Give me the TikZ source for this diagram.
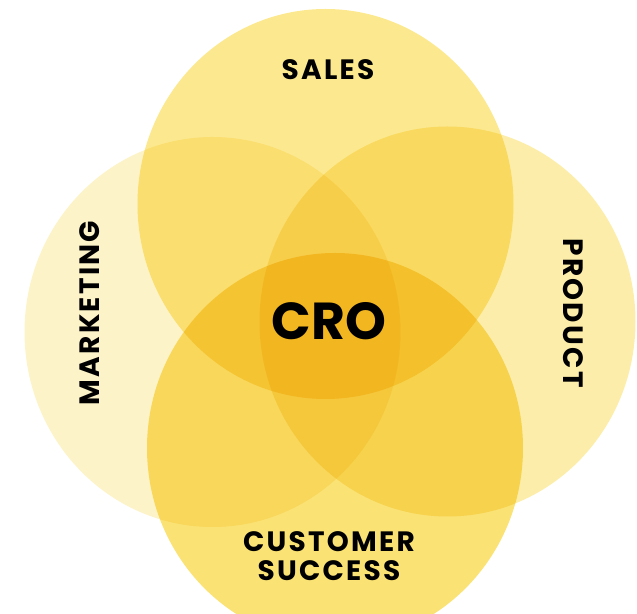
\documentclass[tikz,border=0pt]{standalone}
\usepackage{fontspec}
\setmainfont{Poppins}
\newfontfamily\areafont{Poppins}[LetterSpace=8]
\definecolor{mktg}{HTML}{FDF3C8}
\definecolor{prod}{HTML}{FCEEAA}
\definecolor{sales}{HTML}{FCE98F}
\definecolor{cust}{HTML}{FAE274}
\begin{document}
\begin{tikzpicture}[x=0.75pt,y=0.75pt,
    area/.style={font=\areafont\bfseries\fontsize{21}{22}\selectfont},
    core/.style={font=\bfseries\fontsize{39}{39}\selectfont}]
  \useasboundingbox (0,0) rectangle (637,614);
  % the four overlapping areas, multiplied together
  \begin{scope}[blend group=multiply]
    \foreach \cx/\cy/\col in {212.5/282/mktg, 447.5/292.5/prod, 325.5/410/sales, 335/166/cust} {
        \fill[\col] (\cx,\cy) ellipse [x radius=188, y radius=195];
      }
  \end{scope}
  \node[area] (sales) at (328,544) {SALES};
  \node[area, rotate=90] (marketing) at (90,301) {MARKETING};
  \node[area, rotate=-90] (product) at (573.5,301) {PRODUCT};
  \node[area, align=center] (customer) at (329,58) {CUSTOMER\\SUCCESS};
  \node[core] (cro) at (329,293) {CRO};
\end{tikzpicture}
\end{document}
